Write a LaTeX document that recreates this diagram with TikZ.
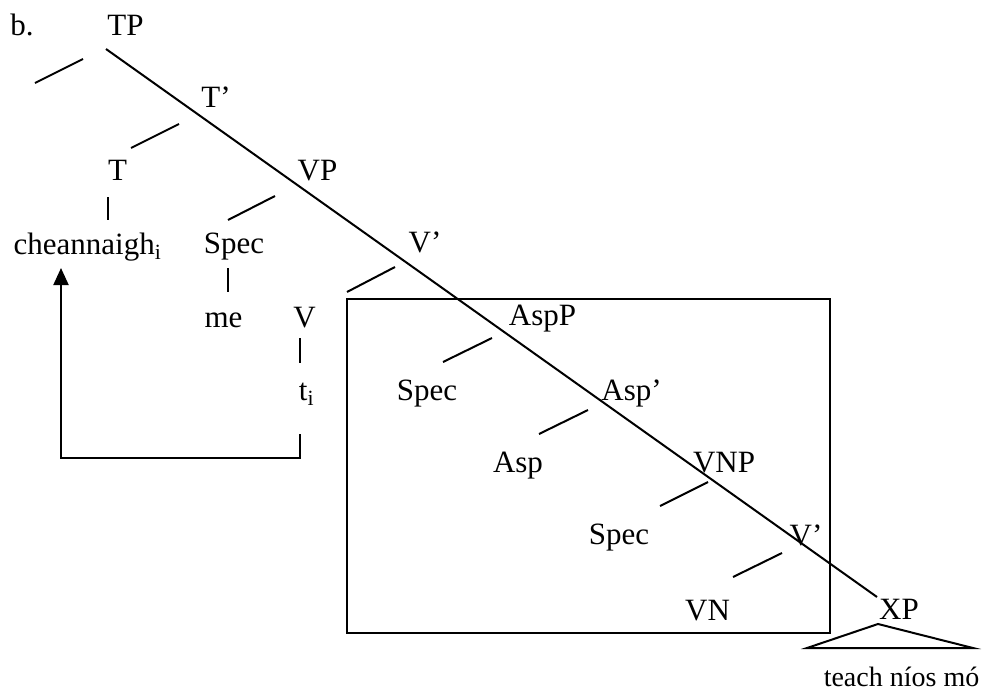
\documentclass[tikz,border=0pt]{standalone}
\usepackage{fontspec}
\setmainfont{Liberation Serif}
\usetikzlibrary{arrows.meta}
\begin{document}
\begin{tikzpicture}[x=1pt,y=-1pt,
  lbl/.style={anchor=base,inner sep=0pt,font=\fontsize{31}{31}\selectfont},
  edge/.style={line width=2pt},
  movearrow/.style={line width=2pt,-{Triangle[width=15pt,length=17pt]}}]
\useasboundingbox (0,0) rectangle (985,696);
% labels
\node[lbl] (b) at (22,35) {b.};
\node[lbl] (TP) at (125.5,35) {TP};
\node[lbl] (Tbar) at (216,107) {T’};
\node[lbl] (T) at (117.5,180) {T};
\node[lbl] (cheann) at (87.5,254) {cheannaigh\textsubscript{i}};
\node[lbl] (VP) at (317.5,180) {VP};
\node[lbl] (SpecV) at (234,253) {Spec};
\node[lbl] (Vbar) at (425,252) {V’};
\node[lbl] (me) at (223.5,327) {me};
\node[lbl] (V) at (304.5,327) {V};
\node[lbl] (ti) at (306.5,400) {t\textsubscript{i}};
\node[lbl] (AspP) at (542.5,325) {AspP};
\node[lbl] (SpecA) at (427,400) {Spec};
\node[lbl] (Aspbar) at (631.5,400) {Asp’};
\node[lbl] (Asp) at (518,472) {Asp};
\node[lbl] (VNP) at (724,472) {VNP};
\node[lbl] (SpecVN) at (619,544) {Spec};
\node[lbl] (Vbar2) at (806,545) {V’};
\node[lbl] (VN) at (707.5,620) {VN};
\node[lbl] (XP) at (899,619) {XP};
\node[lbl,font=\fontsize{28}{28}\selectfont] (teach) at (901.5,686) {teach níos mó};
% main diagonal
\coordinate (diagA) at (106,49);
\coordinate (diagB) at (877,597);
\draw[edge] (diagA) -- (diagB);
% short left branches
\coordinate (b1a) at (35,83);   \coordinate (b1b) at (83,59);
\coordinate (b2a) at (131,148); \coordinate (b2b) at (179,124);
\coordinate (b3a) at (228,220); \coordinate (b3b) at (275,196);
\coordinate (b4a) at (347,292); \coordinate (b4b) at (395,267);
\coordinate (b5a) at (443,362); \coordinate (b5b) at (492,338);
\coordinate (b6a) at (539,434); \coordinate (b6b) at (588,410);
\coordinate (b7a) at (660,506); \coordinate (b7b) at (708,482);
\coordinate (b8a) at (733,577); \coordinate (b8b) at (782,553);
\foreach \i in {1,...,8} {\draw[edge] (b\i a) -- (b\i b);}
% vertical unary lines
\coordinate (u1a) at (108,197); \coordinate (u1b) at (108,220);
\coordinate (u2a) at (228,268); \coordinate (u2b) at (228,292);
\coordinate (u3a) at (300,338); \coordinate (u3b) at (300,363);
\foreach \i in {1,2,3} {\draw[edge] (u\i a) -- (u\i b);}
% box
\coordinate (boxA) at (347,299);
\coordinate (boxB) at (830,633);
\draw[edge] (boxA) rectangle (boxB);
% triangle
\coordinate (triTop) at (878,624);
\coordinate (triL) at (807,648);
\coordinate (triR) at (973,648);
\draw[edge,line join=miter] (triTop) -- (triL) -- (triR) -- cycle;
% movement arrow
\coordinate (mvA) at (300,434);
\coordinate (mvB) at (300,458);
\coordinate (mvC) at (61,458);
\coordinate (mvD) at (61,268);
\draw[movearrow] (mvA) -- (mvB) -- (mvC) -- (mvD);
\end{tikzpicture}
\end{document}
